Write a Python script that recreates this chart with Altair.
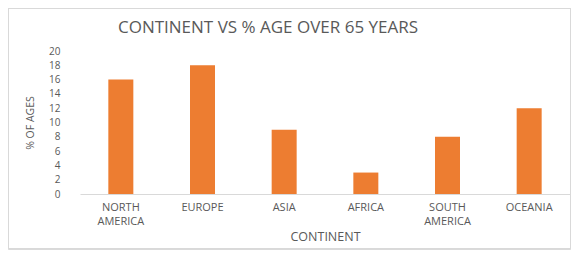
import altair as alt
import pandas as pd

continents = ["NORTH AMERICA", "EUROPE", "ASIA", "AFRICA", "SOUTH AMERICA", "OCEANIA"]
pct_over_65 = [16, 18, 9, 3, 8, 12]
y_ticks = [0, 2, 4, 6, 8, 10, 12, 14, 16, 18, 20]
chart_title = "CONTINENT VS % AGE OVER 65 YEARS"

df = pd.DataFrame({"continent": continents, "pct": pct_over_65})
title_df = pd.DataFrame({"t": [chart_title]})

FONT = "Open Sans"
GRAY = "#595959"

bars = alt.Chart(df).mark_bar(color="#ED7D31", size=25).encode(
    x=alt.X(
        "continent:N",
        sort=continents,
        scale=alt.Scale(paddingInner=0, paddingOuter=0),
        axis=alt.Axis(
            title="CONTINENT",
            labelAngle=0,
            labelExpr="split(datum.label, ' ')",
            labelFont=FONT,
            labelFontSize=11,
            labelColor=GRAY,
            labelPadding=7,
            labelLineHeight=14,
            ticks=False,
            domainColor="#d9d9d9",
            domainWidth=1,
            titleFont=FONT,
            titleFontSize=12.5,
            titleFontWeight="normal",
            titleColor=GRAY,
            titlePadding=4,
        ),
    ),
    y=alt.Y(
        "pct:Q",
        scale=alt.Scale(domain=[0, 20], nice=False),
        axis=alt.Axis(
            title="% OF AGES",
            values=y_ticks,
            grid=False,
            domain=False,
            ticks=False,
            labelFont=FONT,
            labelFontSize=10,
            labelColor=GRAY,
            labelPadding=20,
            titleFont=FONT,
            titleFontSize=10.5,
            titleFontWeight="normal",
            titleColor=GRAY,
            titlePadding=13,
        ),
    ),
)

border = alt.Chart(df).mark_rect(
    fill=None, stroke="#d9d9d9", strokeWidth=1
).encode(
    x=alt.value(-71.5), x2=alt.value(490.5),
    y=alt.value(-42.5), y2=alt.value(198),
)

title = alt.Chart(title_df).mark_text(
    font=FONT, fontSize=17, color=GRAY, align="center", baseline="alphabetic"
).encode(
    text="t:N",
    x=alt.value(188),
    y=alt.value(-18.5),
)

chart = alt.layer(border, bars, title).properties(
    width=490,
    height=143,
    padding={"left": 72, "top": 43, "right": 1, "bottom": 58},
    autosize=alt.AutoSizeParams(type="none"),
).configure_view(stroke=None)

chart.save("out.html", embed_options={"renderer": "svg", "actions": False})
